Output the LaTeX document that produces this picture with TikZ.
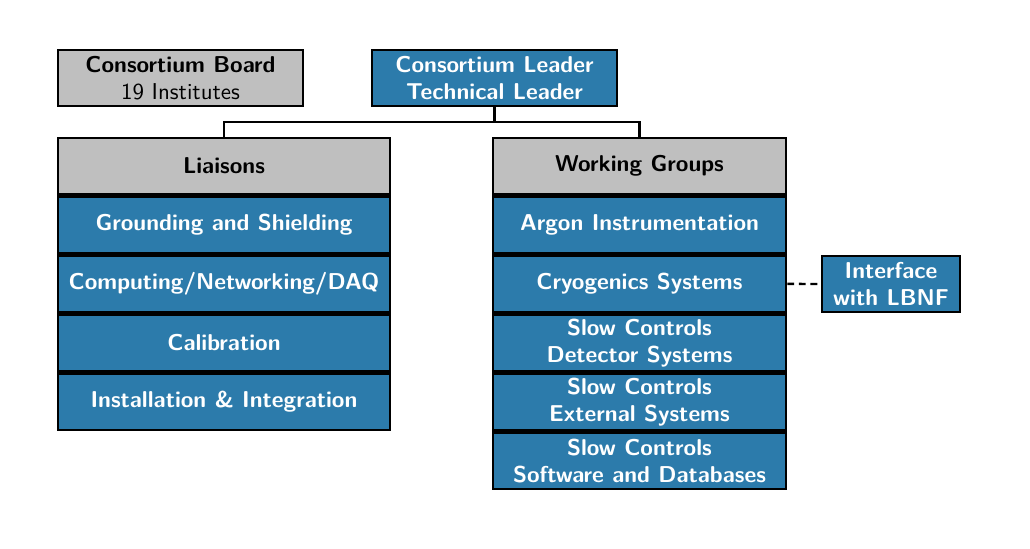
\documentclass[tikz,border=0pt]{standalone}
\usetikzlibrary{positioning}

\definecolor{wgblue}{RGB}{44,123,171}

\tikzset{
  box/.style={draw=black, line width=1.1pt, align=center,
    font=\sffamily\bfseries\fontsize{10.7}{12.6}\selectfont,
    inner sep=2pt, minimum height=0.928cm},
  greybox/.style={box, fill=gray!50},
  bluebox/.style={box, fill=wgblue, text=white},
  liai/.style={bluebox, minimum width=5.44cm},
  wg/.style={bluebox, minimum width=4.81cm},
  link/.style={line width=1.1pt},
}

\begin{document}
\begin{tikzpicture}[x=0.0164cm, y=-0.0164cm]
        \useasboundingbox (0,0) rectangle (1030,548);

        % top row
        \node[greybox, minimum width=4.02cm] (board) at (180.5,78) {Consortium Board\\\mdseries 19 Institutes};
        \node[bluebox, minimum width=4.02cm] (leader) at (494.5,78) {Consortium Leader\\Technical Leader};

        % liaisons column
        \node[greybox, minimum width=5.44cm] (liaisons) at (224,166) {Liaisons};
        \node[liai, below=0pt of liaisons] (grounding) {Grounding and Shielding};
        \node[liai, below=0pt of grounding] (computing) {Computing/Networking/DAQ};
        \node[liai, below=0pt of computing] (calib) {Calibration};
        \node[liai, below=0pt of calib] (install) {Installation \& Integration};

        % working groups column
        \node[greybox, minimum width=4.81cm] (groups) at (639.5,166) {Working Groups};
        \node[wg, below=0pt of groups] (argon) {Argon Instrumentation};
        \node[wg, below=0pt of argon] (cryo) {Cryogenics Systems};
        \node[wg, below=0pt of cryo] (scdet) {Slow Controls\\Detector Systems};
        \node[wg, below=0pt of scdet] (scext) {Slow Controls\\External Systems};
        \node[wg, below=0pt of scext] (scsoft) {Slow Controls\\Software and Databases};

        \node[bluebox, minimum width=2.26cm] (lbnf) at (891,284) {Interface\\with LBNF};

        % connectors
        \coordinate (split) at (leader.south |- 0,122);
        \draw[link] (leader.south) -- (split) -| (liaisons.north);
        \draw[link] (split) -| (groups.north);
        \draw[link, dash pattern=on 3.2pt off 2.2pt] (cryo.east) -- (lbnf.west);

\end{tikzpicture}
\end{document}
